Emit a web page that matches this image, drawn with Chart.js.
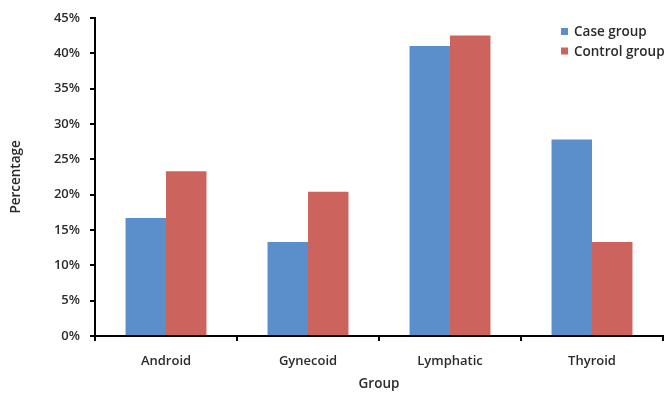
<!DOCTYPE html>
<html>
<head>
<meta charset="utf-8">
<script src="https://cdn.jsdelivr.net/npm/chart.js@4.4.0/dist/chart.umd.min.js"></script>
<style>
  html, body { margin: 0; padding: 0; background: #fff; }
  #wrap { width: 671px; height: 396px; }
</style>
</head>
<body>
<div id="wrap"><canvas id="chart"></canvas></div>
<script>
const groups = ['Android', 'Gynecoid', 'Lymphatic', 'Thyroid'];
const caseGroup = [16.7, 13.3, 41.0, 27.8];
const controlGroup = [23.3, 20.4, 42.5, 13.3];
const seriesNames = ['Case group', 'Control group'];
const yTicks = [0, 5, 10, 15, 20, 25, 30, 35, 40, 45];

const FONT = "'Open Sans', sans-serif";
const TEXT = '#2b2b2b';

// legend sits inside the plot area (top right), like the Excel original
const insideLegend = {
  id: 'insideLegend',
  afterDraw(chart) {
    const ctx = chart.ctx;
    ctx.save();
    ctx.font = '600 13.5px ' + FONT;
    ctx.textBaseline = 'middle';
    chart.data.datasets.forEach((ds, i) => {
      const y = 31.5 + i * 19.5;
      ctx.fillStyle = ds.backgroundColor;
      ctx.fillRect(561, y - 3.5, 7, 7);
      ctx.fillStyle = TEXT;
      ctx.fillText(ds.label, 574, y + 1);
    });
    ctx.restore();
  }
};

new Chart(document.getElementById('chart'), {
  type: 'bar',
  data: {
    labels: groups,
    datasets: [
      { label: seriesNames[0], data: caseGroup, backgroundColor: '#5b8fcc' },
      { label: seriesNames[1], data: controlGroup, backgroundColor: '#cc635c' }
    ]
  },
  options: {
    responsive: true,
    maintainAspectRatio: false,
    animation: false,
    layout: { padding: { left: 0, right: 8, top: 16, bottom: 0 } },
    plugins: {
      legend: { display: false },
      tooltip: { enabled: false }
    },
    datasets: {
      bar: { categoryPercentage: 0.57, barPercentage: 1.0 }
    },
    scales: {
      x: {
        afterFit(scale) { scale.height = 60; },
        grid: {
          offset: true,
          drawOnChartArea: false,
          drawTicks: true,
          tickLength: 5,
          color: '#000',
          lineWidth: 2
        },
        border: { color: '#000', width: 2 },
        ticks: {
          padding: 12,
          color: TEXT,
          font: { family: FONT, size: 13, weight: '600' }
        },
        title: {
          display: true,
          text: 'Group',
          color: TEXT,
          padding: { top: 4, bottom: 4 },
          font: { family: FONT, size: 13.5, weight: '600' }
        }
      },
      y: {
        min: 0,
        max: 45,
        afterFit(scale) { scale.width = 95; },
        afterBuildTicks(scale) { scale.ticks = yTicks.map(v => ({ value: v })); },
        grid: {
          drawOnChartArea: false,
          drawTicks: true,
          tickLength: 5,
          color: '#000',
          lineWidth: 2
        },
        border: { color: '#000', width: 2 },
        ticks: {
          padding: 10,
          color: TEXT,
          font: { family: FONT, size: 13, weight: '600' },
          callback: v => v + '%'
        },
        title: {
          display: true,
          text: 'Percentage',
          color: TEXT,
          padding: { top: 8, bottom: 2 },
          font: { family: FONT, size: 13.5, weight: '600' }
        }
      }
    }
  },
  plugins: [insideLegend]
});
</script>
</body>
</html>
